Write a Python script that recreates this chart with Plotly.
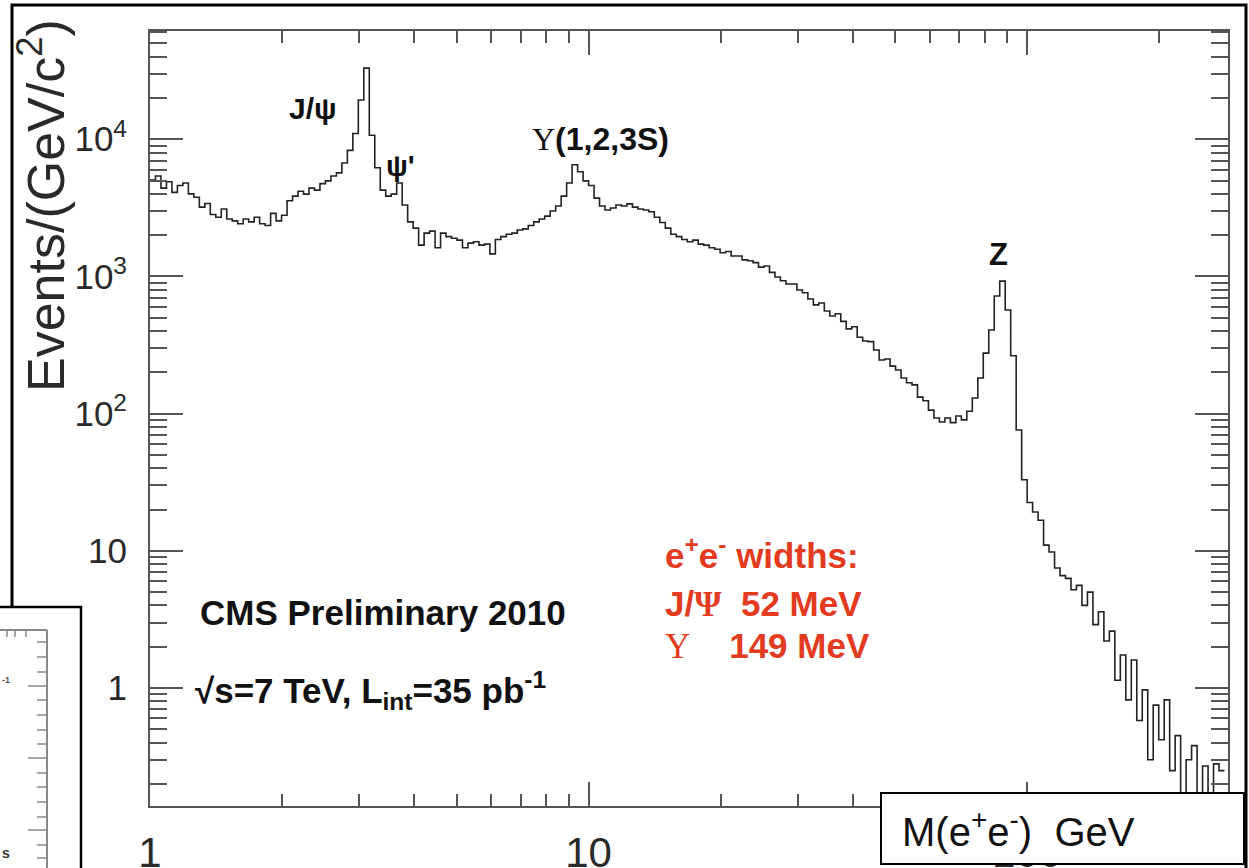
import numpy as np
import plotly.graph_objects as go

W, H = 1249, 868

# Dielectron invariant-mass spectrum, events per bin (log-spaced bins from 1 GeV)
LOG_BIN_WIDTH = 0.0125
counts = [
    5040, 5400, 4400, 4900, 4100, 4600, 4800, 4000, 3780, 3200,
    3400, 2830, 2700, 3100, 2620, 2540, 2420, 2620, 2500, 2700,
    2420, 2350, 2880, 2540, 2790, 3560, 3850, 4180, 3980, 4400,
    4260, 4750, 4970, 5400, 5690, 6710, 8300, 11000, 19300, 33000,
    10700, 6200, 4260, 3850, 3980, 4800, 3320, 2500, 2250, 1690,
    2070, 2140, 1620, 2070, 1950, 1900, 1840, 1620, 1750, 1790,
    1690, 1720, 1460, 1860, 1950, 2030, 2070, 2180, 2220, 2350,
    2500, 2620, 2750, 3000, 3260, 3850, 4800, 6520, 5800, 4970,
    4600, 3720, 3260, 3050, 3150, 3320, 3260, 3380, 3200, 3100,
    3050, 2960, 2700, 2470, 2250, 2030, 1950, 1860, 1790, 1840,
    1720, 1690, 1620, 1580, 1490, 1520, 1410, 1410, 1320, 1300,
    1260, 1170, 1190, 1070, 990, 930, 880, 880, 796, 760,
    685, 620, 640, 560, 515, 535, 470, 415, 430, 360,
    338, 335, 291, 246, 250, 222, 208, 182, 168, 162,
    132, 124, 106, 93, 87, 93, 86, 96, 90, 104,
    130, 182, 276, 407, 720, 925, 569, 264, 76, 33,
    22.5, 19.2, 16.7, 11, 9.8, 7.5, 6.6, 6.3, 5.2, 5.6,
    4.0, 5.0, 2.9, 3.6, 2.2, 2.6, 1.14, 1.74, 0.82, 1.6,
    0.58, 0.97, 0.30, 0.75, 0.42, 0.82, 0.25, 0.45, 0, 0.30,
    0.38, 0, 0.27, 0, 0.28, 0.25,
]

y_tick_vals = [1, 10, 100, 1000, 10000]
y_tick_text = ["1", "10", "10<sup>2</sup>", "10<sup>3</sup>", "10<sup>4</sup>"]
x_tick_vals = [1, 10, 100]
x_tick_text = ["1", "10", "100"]

counts_arr = np.array(counts, dtype=float)
n_bins = len(counts_arr)
edges = 10 ** (np.arange(n_bins + 1) * LOG_BIN_WIDTH)
# empty bins fall off the bottom of the log scale
y_step = np.where(counts_arr > 0, counts_arr, 1e-3)
y_step = np.append(y_step, y_step[-1])

SANS = "Liberation Sans, Arial, Helvetica, sans-serif"
SERIF = "Liberation Serif, Times New Roman, serif"
AXIS_GREY = "#555555"
LABEL_GREY = "#2a2a2a"
RED = "#e23b1f"


def px(x):
    return x / W


def py(y):
    return 1 - y / H


fig = go.Figure()
fig.add_trace(go.Scatter(
    x=edges, y=y_step, mode="lines", line_shape="hv",
    line=dict(color="#222222", width=1.6), hoverinfo="skip", showlegend=False,
))

x_minor = [2, 3, 4, 5, 6, 7, 8, 9, 20, 30, 40, 50, 60, 70, 80, 90, 200]
y_minor = [m * d for d in (0.1, 1, 10, 100, 1000, 10000) for m in range(2, 10)]

fig.update_layout(
    width=W, height=H,
    margin=dict(l=0, r=0, t=0, b=0),
    paper_bgcolor="white", plot_bgcolor="white",
    font=dict(family=SANS, color=LABEL_GREY),
    xaxis=dict(
        type="log", range=[0, 2.458], domain=[px(150), px(1228)],
        showgrid=False, zeroline=False, automargin=False,
        showline=True, linecolor=AXIS_GREY, linewidth=2, mirror="ticks",
        ticks="inside", ticklen=24, tickwidth=1.5, tickcolor=AXIS_GREY,
        tickvals=x_tick_vals, ticktext=x_tick_text,
        tickfont=dict(size=42, family=SANS, color=LABEL_GREY),
        ticklabelstandoff=9,
        minor=dict(tickvals=x_minor, ticks="inside", ticklen=12,
                   tickwidth=1.5, tickcolor=AXIS_GREY, showgrid=False),
    ),
    yaxis=dict(
        type="log", range=[-0.860, 4.789], domain=[py(806), py(31)],
        showgrid=False, zeroline=False, automargin=False,
        showline=True, linecolor=AXIS_GREY, linewidth=2, mirror="ticks",
        ticks="inside", ticklen=33, tickwidth=1.5, tickcolor=AXIS_GREY,
        tickvals=y_tick_vals, ticktext=y_tick_text,
        tickfont=dict(size=35, family=SANS, color=LABEL_GREY),
        ticklabelstandoff=14,
        minor=dict(tickvals=y_minor, ticks="inside", ticklen=17,
                   tickwidth=1.5, tickcolor=AXIS_GREY, showgrid=False),
    ),
)

annotations = []


def note(text, x, y, size, color="#111111", xanchor="center", yanchor="middle",
         family=SANS, angle=0):
    annotations.append(dict(
        text=text, x=px(x), y=py(y), xref="paper", yref="paper",
        xanchor=xanchor, yanchor=yanchor, showarrow=False, textangle=angle,
        font=dict(size=size, color=color, family=family),
    ))


# resonance labels
note("<b>J/ψ</b>", 313, 108, 30)
note("<b>ψ'</b>", 400, 166, 29)
note(f"<span style='font-family:{SERIF}'>Υ</span><b>(1,2,3S)</b>", 530, 139, 32,
     xanchor="left")
note("<b>Z</b>", 998, 254, 31)

# experiment text
note("<b>CMS Preliminary 2010</b>", 198, 612, 35, xanchor="left")
note("<b>√s=7 TeV, L<sub>int</sub>=35 pb<sup>-1</sup></b>", 193, 690, 35,
     xanchor="left")

# widths block
note("<b>e<sup>+</sup>e<sup>-</sup> widths:</b>", 663, 553, 35, color=RED,
     xanchor="left")
note(f"<b>J/<span style='font-family:{SERIF}'>Ψ</span>\u00a0 52 MeV</b>", 663, 604,
     35, color=RED, xanchor="left")
note(f"<span style='font-family:{SERIF}'>Υ</span><b>\u00a0\u00a0\u00a0 149 MeV</b>",
     663, 646, 35, color=RED, xanchor="left")

# y-axis title
note("Events/(GeV/c<sup>2</sup>)", 42, 206, 52, color=LABEL_GREY, angle=-90)

shapes = []


def rect(x0, y0, x1, y1, color="black", width=2, fill=None):
    shapes.append(dict(
        type="rect", xref="paper", yref="paper",
        x0=px(x0), x1=px(x1), y0=py(y1), y1=py(y0),
        line=dict(color=color, width=width),
        fillcolor=fill if fill else "rgba(0,0,0,0)", layer="above",
    ))


def seg(x0, y0, x1, y1, color=AXIS_GREY, width=1.5):
    shapes.append(dict(
        type="line", xref="paper", yref="paper",
        x0=px(x0), x1=px(x1), y0=py(y0), y1=py(y1),
        line=dict(color=color, width=width), layer="above",
    ))


# slide border
rect(12, 5, 1246, 900, width=3)

# neighbouring panel peeking in at the lower left
rect(-5, 607, 81, 900, width=2.5, fill="white")
seg(0, 630, 47, 630, color="#888888", width=2)
seg(47, 630, 47, 900, color="#888888", width=2)
for tx in (7, 15, 26):
    seg(tx, 630, tx, 637, color="#888888", width=1.5)
for ty in (642, 657, 672, 700, 715, 730, 744, 773, 787, 802, 817, 845, 858):
    seg(37, ty, 47, ty, color="#888888", width=1.5)
for ty in (686, 758, 830):
    seg(28, ty, 47, ty, color="#888888", width=1.5)
note("<b>-1</b>", 0, 680, 9, color="#555555", xanchor="left")
note("<b>s</b>", 0, 853, 14, color="#333333", xanchor="left")

# axis caption box
rect(881, 793, 1244, 864, width=2, fill="white")
note("M(e<sup>+</sup>e<sup>-</sup>)\u00a0 GeV", 900, 829, 40, color="#111111",
     xanchor="left")

fig.update_layout(annotations=annotations, shapes=shapes)
fig.write_html("out.html")
